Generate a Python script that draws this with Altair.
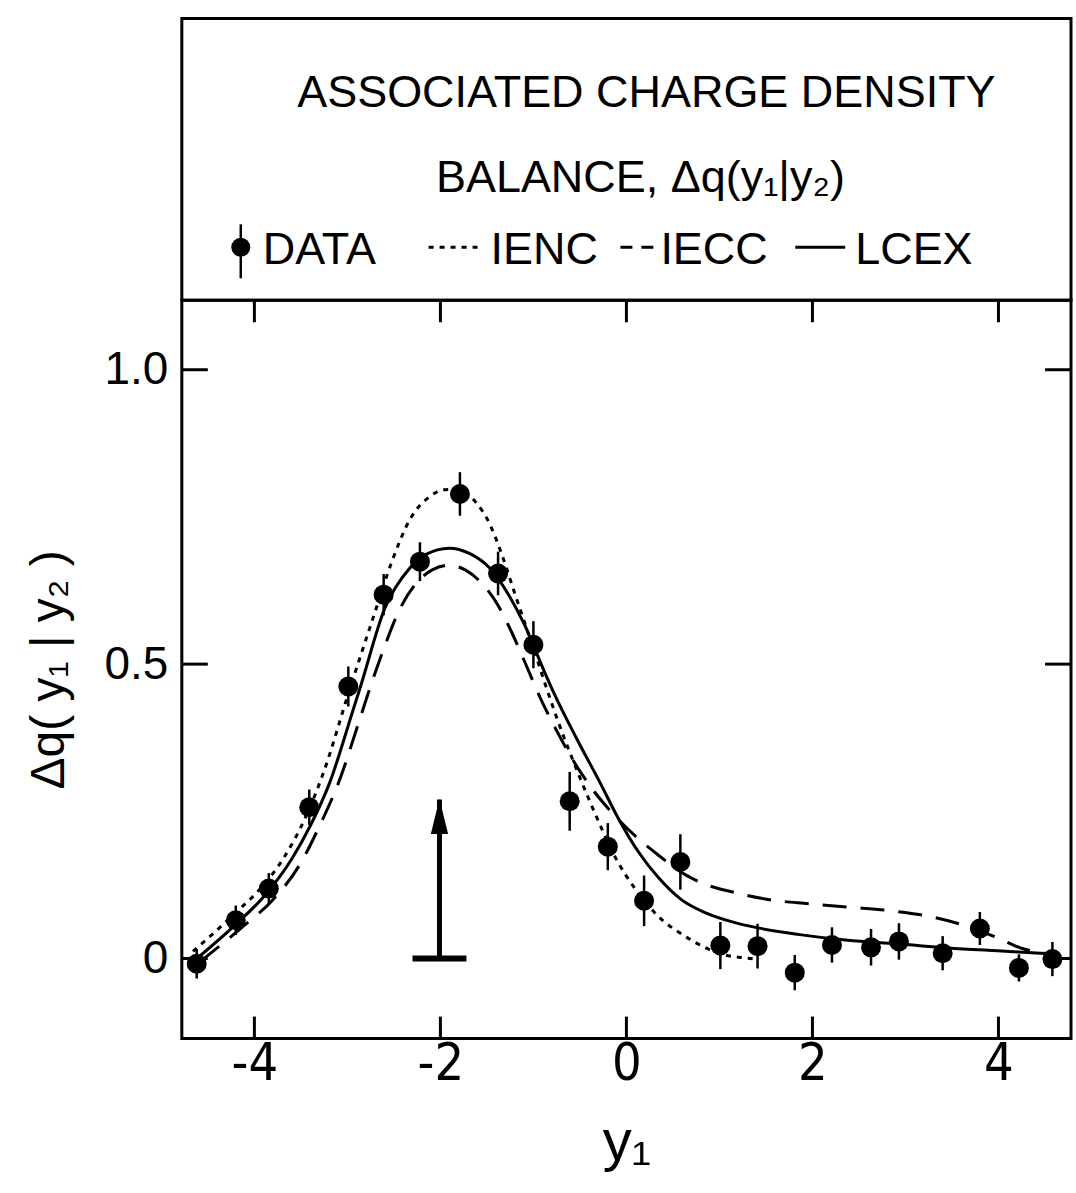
import altair as alt
import pandas as pd

# ---------------- data ----------------
data_x = [-4.62, -4.20, -3.845, -3.41, -2.99, -2.61, -2.22, -1.79, -1.38, -1.00,
          -0.61, -0.20, 0.19, 0.58, 1.01, 1.41, 1.81, 2.21, 2.63, 2.93,
          3.40, 3.80, 4.22, 4.58]
data_y = [-0.009, 0.065, 0.119, 0.257, 0.462, 0.618, 0.674, 0.789, 0.654, 0.533,
          0.267, 0.190, 0.098, 0.164, 0.022, 0.021, -0.024, 0.023, 0.019, 0.029,
          0.009, 0.051, -0.016, -0.001]
data_err = [0.025, 0.025, 0.026, 0.030, 0.034, 0.035, 0.033, 0.037, 0.037, 0.040,
            0.050, 0.040, 0.043, 0.047, 0.040, 0.038, 0.030, 0.030, 0.031, 0.031,
            0.029, 0.028, 0.023, 0.029]

ienc_x = [-4.66, -4.20, -3.90, -3.68, -3.45, -3.27, -2.97, -2.71, -2.52, -2.33,
          -2.11, -1.97, -1.83, -1.62, -1.47, -1.39, -1.30, -1.20, -1.05, -0.95,
          -0.89, -0.74, -0.52, -0.32, -0.12, 0.10, 0.34, 0.63, 0.84, 1.06,
          1.27, 1.39]
ienc_y = [0.012, 0.078, 0.125, 0.172, 0.240, 0.310, 0.460, 0.585, 0.675, 0.745,
          0.785, 0.796, 0.797, 0.775, 0.738, 0.708, 0.668, 0.620, 0.550, 0.503,
          0.474, 0.405, 0.315, 0.240, 0.172, 0.117, 0.072, 0.038, 0.019, 0.006,
          0.001, -0.001]

lcex_x = [-4.64, -4.20, -3.90, -3.595, -3.40, -3.187, -2.943, -2.853, -2.597, -2.335,
          -2.161, -1.903, -1.688, -1.476, -1.264, -1.096, -0.887, -0.783, -0.53, -0.288,
          -0.077, 0.134, 0.346, 0.59, 0.846, 1.167, 1.413, 1.842, 2.379, 2.916,
          3.452, 3.99, 4.45, 4.56]
lcex_y = [-0.003, 0.058, 0.105, 0.170, 0.225, 0.300, 0.420, 0.465, 0.595, 0.662,
          0.686, 0.697, 0.688, 0.664, 0.617, 0.567, 0.489, 0.452, 0.372, 0.300,
          0.235, 0.180, 0.137, 0.100, 0.078, 0.061, 0.052, 0.041, 0.031, 0.025,
          0.018, 0.013, 0.009, 0.008]

iecc_x = [-4.58, -4.118, -3.80, -3.51, -3.30, -3.08, -2.89, -2.777, -2.60, -2.447,
          -2.272, -2.088, -1.905, -1.734, -1.553, -1.373, -1.236, -1.11, -0.924, -0.743,
          -0.575, -0.363, -0.151, 0.103, 0.348, 0.636, 0.882, 1.171, 1.492, 1.954,
          2.415, 2.844, 3.274, 3.638, 3.99, 4.236, 4.494]
iecc_y = [-0.005, 0.055, 0.100, 0.160, 0.225, 0.305, 0.395, 0.450, 0.530, 0.590,
          0.635, 0.660, 0.668, 0.660, 0.637, 0.598, 0.555, 0.510, 0.442, 0.385,
          0.337, 0.287, 0.247, 0.207, 0.175, 0.142, 0.124, 0.112, 0.101, 0.093,
          0.087, 0.081, 0.071, 0.056, 0.035, 0.018, 0.009]

arrow_x = [-2.01]
arrow_base = [0.0]
arrow_tip = [0.27]
bar_left = [-2.30]
bar_right = [-1.72]

x_tick_values = [-4, -2, 0, 2, 4]
y_tick_values = [0, 0.5, 1.0]

title_line1 = "ASSOCIATED CHARGE DENSITY"
title_line2 = "BALANCE, \u0394q(y\u2081|y\u2082)"
legend_labels = ["DATA", "IENC", "IECC", "LCEX"]
x_title = "y\u2081"
y_title = "\u0394q( y\u2081 | y\u2082 )"

# ---------------- styling ----------------
FONT = "Liberation Sans"
NARROW = "Liberation Sans Narrow, DejaVu Sans Condensed, Liberation Sans"
W, H = 890, 739
TOP_H = 282
LW = 3

xs = alt.Scale(domain=[-4.78, 4.78], nice=False, zero=False)
ys = alt.Scale(domain=[-0.136, 1.118], nice=False, zero=False)

x_axis = alt.Axis(values=x_tick_values, labelExpr="'' + datum.value", ticks=False, domain=False,
                  grid=False, labelFont=NARROW, labelFontSize=52, labelColor="black",
                  labelPadding=0, labelFlush=False, title=x_title, titleFont=FONT,
                  titleFontSize=58, titleFontWeight="normal", titleColor="black", titlePadding=24)
y_axis = alt.Axis(values=y_tick_values,
                  labelExpr="datum.value == 0 ? '0' : format(datum.value, '.1f')",
                  ticks=False, domain=False, grid=False, labelFont=FONT, labelFontSize=46,
                  labelColor="black", labelPadding=14, labelFlush=False, title=y_title,
                  titleFont=FONT, titleFontSize=48, titleFontWeight="normal",
                  titleColor="black", titlePadding=30)


def X(field):
    return alt.X(field, scale=xs, axis=x_axis)


def Y(field):
    return alt.Y(field, scale=ys, axis=y_axis)


pts = pd.DataFrame({"x": data_x, "y": data_y,
                    "lo": [a - b for a, b in zip(data_y, data_err)],
                    "hi": [a + b for a, b in zip(data_y, data_err)]})

points = alt.Chart(pts).mark_circle(size=400, color="black", opacity=1).encode(
    x=X("x:Q"), y=Y("y:Q"))
errbars = alt.Chart(pts).mark_rule(color="black", strokeWidth=2.5).encode(
    x=X("x:Q"), y=Y("lo:Q"), y2="hi:Q")


def curve(xv, yv, dash=None):
    df = pd.DataFrame({"x": xv, "y": yv})
    kw = dict(color="black", strokeWidth=LW, interpolate="monotone")
    if dash:
        kw["strokeDash"] = dash
    return alt.Chart(df).mark_line(**kw).encode(x=X("x:Q"), y=Y("y:Q"), order="x:Q")


ienc = curve(ienc_x, ienc_y, [5, 6])
iecc = curve(iecc_x, iecc_y, [24, 14])
lcex = curve(lcex_x, lcex_y)

arr_df = pd.DataFrame({"x": arrow_x, "y0": arrow_base, "y1": arrow_tip,
                       "bl": bar_left, "br": bar_right})
shaft = alt.Chart(arr_df).mark_rule(color="black", strokeWidth=5).encode(
    x=X("x:Q"), y=Y("y0:Q"), y2="y1:Q")
head = alt.Chart(arr_df).mark_point(
    shape="M0,-1L0.42,0.7L-0.42,0.7Z", filled=True, color="black", opacity=1, size=1700,
    yOffset=20).encode(x=X("x:Q"), y=Y("y1:Q"))
bar = alt.Chart(arr_df).mark_rule(color="black", strokeWidth=6).encode(
    x=X("bl:Q"), x2="br:Q", y=Y("y0:Q"))

xt = pd.DataFrame({"t": x_tick_values})
yt = pd.DataFrame({"t": y_tick_values})
tick_top = alt.Chart(xt).mark_rule(color="black", strokeWidth=3).encode(
    x=X("t:Q"), y=alt.value(0), y2=alt.value(22))
tick_bot = alt.Chart(xt).mark_rule(color="black", strokeWidth=3).encode(
    x=X("t:Q"), y=alt.value(H), y2=alt.value(H - 22))
tick_left = alt.Chart(yt).mark_rule(color="black", strokeWidth=3).encode(
    y=Y("t:Q"), x=alt.value(0), x2=alt.value(26))
tick_right = alt.Chart(yt).mark_rule(color="black", strokeWidth=3).encode(
    y=Y("t:Q"), x=alt.value(W), x2=alt.value(W - 26))

main = alt.layer(tick_top, tick_bot, tick_left, tick_right, ienc, iecc, lcex,
                 errbars, points, shaft, head, bar).properties(width=W, height=H)

# ---------------- boxed legend panel ----------------
def text_mark(s, x, y, align="left", size=45):
    return alt.Chart(pd.DataFrame({"t": [s]})).mark_text(
        font=FONT, fontSize=size, align=align, baseline="alphabetic", color="black"
    ).encode(x=alt.value(x), y=alt.value(y), text="t:N")


one = pd.DataFrame({"k": [0]})
leg_dot = alt.Chart(one).mark_circle(size=360, color="black", opacity=1).encode(
    x=alt.value(59), y=alt.value(229))
leg_bar = alt.Chart(one).mark_rule(color="black", strokeWidth=2.5).encode(
    x=alt.value(59), y=alt.value(206), y2=alt.value(260))
leg_dotted = alt.Chart(one).mark_rule(color="black", strokeWidth=LW, strokeDash=[5, 6]).encode(
    x=alt.value(247), x2=alt.value(300), y=alt.value(229))
leg_dashed = alt.Chart(one).mark_rule(color="black", strokeWidth=LW, strokeDash=[12, 9]).encode(
    x=alt.value(439), x2=alt.value(472), y=alt.value(229))
leg_solid = alt.Chart(one).mark_rule(color="black", strokeWidth=LW).encode(
    x=alt.value(614), x2=alt.value(664), y=alt.value(229))

top = alt.layer(
    text_mark(title_line1, 465, 89, align="center"),
    text_mark(title_line2, 459, 174, align="center"),
    leg_dot, leg_bar,
    text_mark(legend_labels[0], 81, 246),
    leg_dotted,
    text_mark(legend_labels[1], 309, 246),
    leg_dashed,
    text_mark(legend_labels[2], 479, 246),
    leg_solid,
    text_mark(legend_labels[3], 674, 246),
).properties(width=W, height=TOP_H)

chart = alt.vconcat(top, main, spacing=0, bounds="flush").properties(
    padding={"left": 24, "top": 16, "right": 2, "bottom": 0},
    background="white",
).configure_view(stroke="black", strokeWidth=3)

chart.save("out.html", embed_options={"renderer": "svg", "actions": False})
